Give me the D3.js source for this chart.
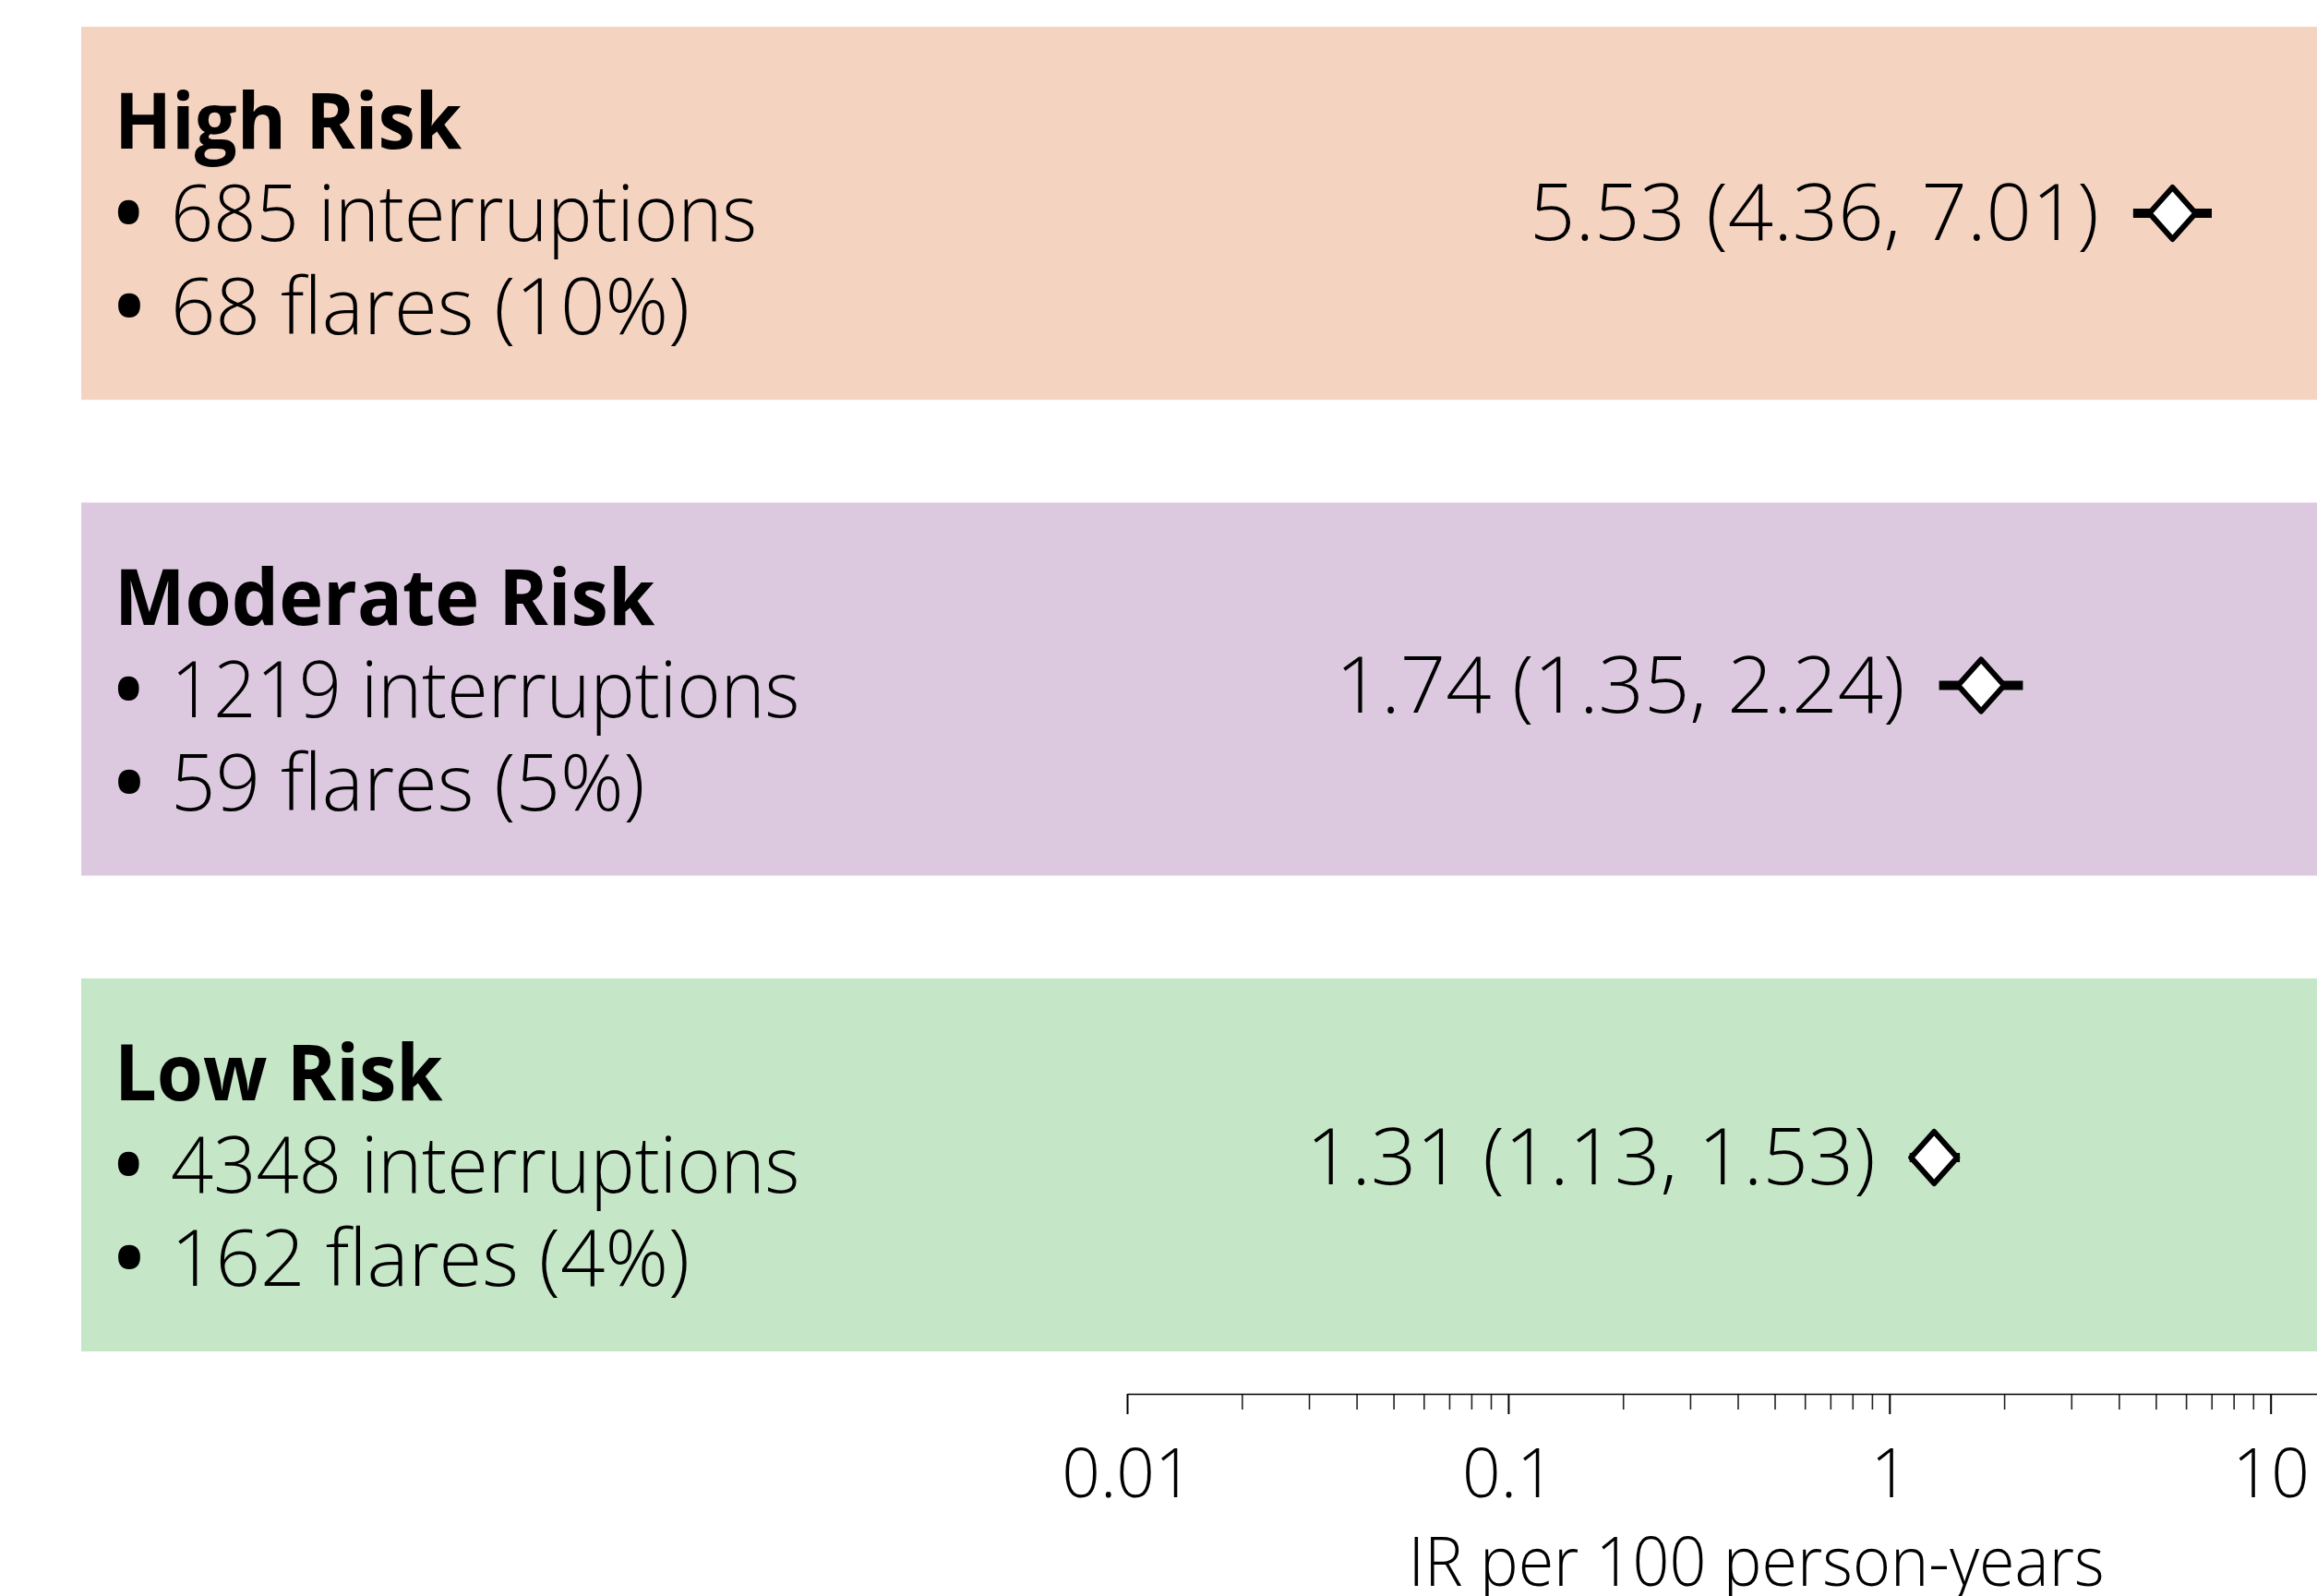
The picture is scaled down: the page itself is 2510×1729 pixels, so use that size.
<!DOCTYPE html>
<html>
<head>
<meta charset="utf-8">
<script src="https://cdn.jsdelivr.net/npm/d3@7"></script>
<style>
  html, body { margin: 0; padding: 0; background: #ffffff; }
  svg { display: block; font-family: "Open Sans", "Noto Sans", sans-serif; }
</style>
</head>
<body>
<svg id="chart" width="2510" height="1729"></svg>
<script>
// Flare incidence by risk group after treatment interruption
const groups = ["High Risk", "Moderate Risk", "Low Risk"];
const interruptions = [685, 1219, 4348];
const flares = [68, 59, 162];
const flarePct = [10, 5, 4];
const irEstimate = [5.53, 1.74, 1.31];
const irLower = [4.36, 1.35, 1.13];
const irUpper = [7.01, 2.24, 1.53];
const majorTicks = [0.01, 0.1, 1, 10];
const tickLabels = ["0.01", "0.1", "1", "10"];
const axisTitle = "IR per 100 person-years";
const groupFills = ["#f5d3c1", "#dcc9e0", "#c6e6c8"];

const W = 2510, H = 1729;
const textWeight = 350;
const svg = d3.select("#chart");

const x = d3.scaleLog().domain([0.01, 20]).range([1221, 2584]);
const yBand = d3.scaleBand().domain(groups).range([29, 1464]).paddingInner(0.216).paddingOuter(0);
const yPoint = d3.scalePoint().domain(groups).range([231, 1254]);
const fill = d3.scaleOrdinal().domain(groups).range(groupFills);

const rows = groups.map((g, i) => ({
  group: g,
  n: interruptions[i],
  flares: flares[i],
  pct: flarePct[i],
  est: irEstimate[i],
  lo: irLower[i],
  hi: irUpper[i]
}));

// background panels
svg.append("g").selectAll("rect").data(rows).join("rect")
  .attr("x", 88)
  .attr("y", d => yBand(d.group))
  .attr("width", W)
  .attr("height", yBand.bandwidth())
  .attr("fill", d => fill(d.group));

// left-hand group descriptions
const desc = svg.append("g").selectAll("g").data(rows).join("g")
  .attr("transform", d => `translate(0,${yBand(d.group) + yBand.bandwidth() / 2})`);

desc.append("text")
  .attr("transform", "translate(124,-70) scale(0.955,1)")
  .attr("font-size", 85)
  .attr("font-weight", 700)
  .attr("fill", "#000")
  .text(d => d.group);

// bulleted lines: bullet glyph plus the text, condensed slightly
function bulletLine(dy, condense, content) {
  const t = desc.append("text")
    .attr("transform", `translate(124,${dy}) scale(${condense},1)`)
    .attr("font-size", 85)
    .attr("fill", "#000");
  t.append("tspan")
    .attr("x", 0)
    .attr("font-weight", 700)
    .text("\u2022");
  t.append("tspan")
    .attr("x", 61 / condense)
    .attr("font-weight", textWeight)
    .text(content);
}
bulletLine(30, 0.953, d => `${d.n} interruptions`);
bulletLine(131, 1.0, d => `${d.flares} flares (${d.pct}%)`);

// confidence intervals, estimates and their labels
const marks = svg.append("g").selectAll("g").data(rows).join("g");

marks.append("line")
  .attr("x1", d => x(d.lo))
  .attr("x2", d => x(d.hi))
  .attr("y1", d => yPoint(d.group))
  .attr("y2", d => yPoint(d.group))
  .attr("stroke", "#000")
  .attr("stroke-width", 10);

const dw = 25, dh = 28;
marks.append("path")
  .attr("d", d => {
    const cx = x(d.est), cy = yPoint(d.group);
    return `M${cx - dw},${cy}L${cx},${cy - dh}L${cx + dw},${cy}L${cx},${cy + dh}Z`;
  })
  .attr("fill", "#fff")
  .attr("stroke", "#000")
  .attr("stroke-width", 6)
  .attr("stroke-linejoin", "round");

marks.append("text")
  .attr("transform", d => `translate(${x(d.lo) - 37},${yPoint(d.group) + 29}) scale(1.03,1)`)
  .attr("text-anchor", "end")
  .attr("font-size", 84)
  .attr("font-weight", textWeight)
  .attr("fill", "#000")
  .text(d => `${d.est.toFixed(2)} (${d.lo.toFixed(2)}, ${d.hi.toFixed(2)})`);

// log axis
const axisY = 1510;
const minorTicks = x.ticks().filter(v => !majorTicks.some(m => Math.abs(m - v) < 1e-9));

const minorAxis = svg.append("g")
  .attr("transform", `translate(0,${axisY})`)
  .call(d3.axisBottom(x).tickValues(minorTicks).tickSize(17).tickFormat(""));
minorAxis.select(".domain").remove();
minorAxis.selectAll(".tick line").attr("stroke", "#222").attr("stroke-width", 1.6);

const majorAxis = svg.append("g")
  .attr("transform", `translate(0,${axisY})`)
  .call(d3.axisBottom(x)
    .tickValues(majorTicks)
    .tickSize(22)
    .tickSizeOuter(0)
    .tickPadding(38)
    .tickFormat((d, i) => tickLabels[i]));
majorAxis.select(".domain").attr("stroke", "#000").attr("stroke-width", 1.6);
majorAxis.selectAll(".tick line").attr("stroke", "#000").attr("stroke-width", 2);
majorAxis.selectAll(".tick text")
  .attr("font-size", 73)
  .attr("font-weight", textWeight)
  .attr("font-family", "\"Open Sans\", \"Noto Sans\", sans-serif")
  .attr("fill", "#000");

const [r0, r1] = x.range();
svg.append("text")
  .attr("transform", `translate(${(r0 + r1) / 2},1718) scale(0.96,1)`)
  .attr("text-anchor", "middle")
  .attr("font-size", 73)
  .attr("font-weight", textWeight)
  .attr("fill", "#000")
  .text(axisTitle);
</script>
</body>
</html>
